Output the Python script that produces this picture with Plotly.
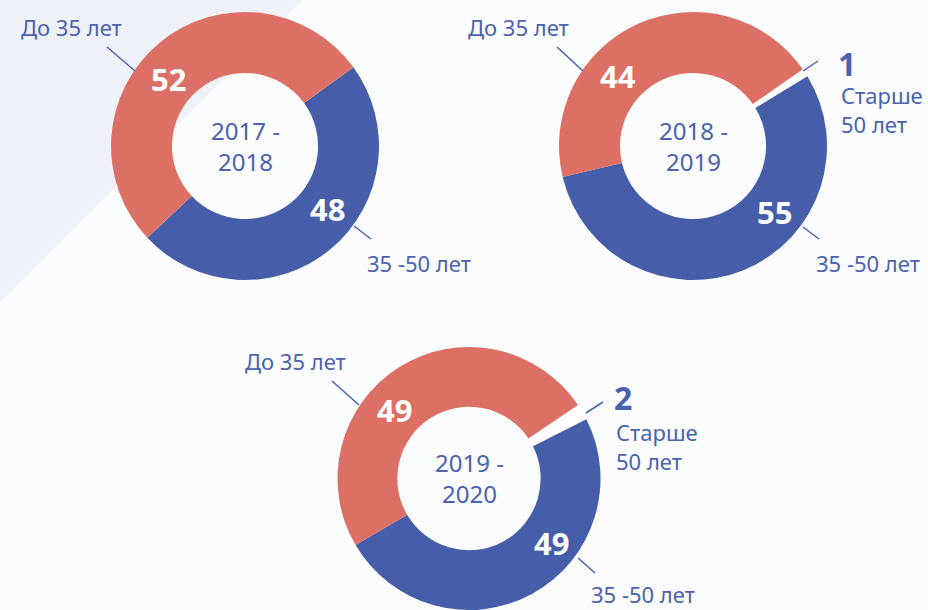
import plotly.graph_objects as go

W, H = 928, 610

# ---- data ----
periods = ["2017 -<br>2018", "2018 -<br>2019", "2019 -<br>2020"]
age_groups = ["Старше 50 лет", "35 -50 лет", "До 35 лет"]
values_2017 = [0, 48, 52]
values_2018 = [1, 55, 44]
values_2019 = [2, 49, 49]
all_values = [values_2017, values_2018, values_2019]

RED = "#DD7064"
BLUE = "#465EA9"
TXT = "#4A62B0"
FONT = "Noto Sans"

def px(x):
    return x / W

def py(y):
    return 1 - y / H

# per-chart layout (pixel geometry)
domains = [
    dict(x=[px(111), px(379)], y=[py(280), py(12)]),
    dict(x=[px(559), px(827)], y=[py(280), py(12)]),
    dict(x=[px(335), px(603)], y=[0, py(347)]),
]
rotations = [54, 55, 56]
centers = [(245, 146), (693, 146), (469, 478)]

fig = go.Figure()
for vals, dom, rot in zip(all_values, domains, rotations):
    labs = [l for l, v in zip(age_groups, vals) if v > 0]
    vv = [v for v in vals if v > 0]
    cols = {"Старше 50 лет": "#FFFFFF", "35 -50 лет": BLUE, "До 35 лет": RED}
    fig.add_trace(go.Pie(
        labels=labs, values=vv, hole=0.545, sort=False, direction="clockwise",
        rotation=rot, domain=dom, textinfo="none", hoverinfo="skip",
        marker=dict(colors=[cols[l] for l in labs], line=dict(width=0)),
        showlegend=False,
    ))

ann = []
shapes = []

# background
shapes.append(dict(type="path", xref="paper", yref="paper",
                   path=f"M 0 1 L {px(303)} 1 L 0 {py(303)} Z",
                   fillcolor="#EEF1F8", line=dict(width=0), layer="below"))

def add_text(x, y, text, size, color=TXT, bold=False, xanchor="center"):
    ann.append(dict(x=px(x), y=py(y), xref="paper", yref="paper", text=text,
                    showarrow=False, xanchor=xanchor, yanchor="middle",
                    align=xanchor if xanchor != "center" else "center",
                    font=dict(family=FONT, size=size, color=color,
                              weight="bold" if bold else "normal")))

def add_line(x0, y0, x1, y1):
    shapes.append(dict(type="line", xref="paper", yref="paper",
                       x0=px(x0), y0=py(y0), x1=px(x1), y1=py(y1),
                       line=dict(color=TXT, width=1.5)))

# centre titles
for (cx, cy), t in zip(centers, periods):
    add_text(cx, cy, t, 24)

# chart 1
add_text(71, 27, age_groups[2], 22)
add_line(107, 47, 135, 71)
add_text(419, 263, age_groups[1], 22)
add_line(354, 226, 371, 239)
add_text(168, 79, str(values_2017[2]), 31, "#FFFFFF", True)
add_text(327, 209, str(values_2017[1]), 31, "#FFFFFF", True)

# chart 2
add_text(518, 27, age_groups[2], 22)
add_line(557, 47, 583, 71)
add_text(868, 263, age_groups[1], 22)
add_line(803, 227, 819, 239)
add_text(618, 76, str(values_2018[2]), 31, "#FFFFFF", True)
add_text(774, 212, str(values_2018[1]), 31, "#FFFFFF", True)
add_text(836, 63, str(values_2018[0]), 32, TXT, True, "left")
add_text(839, 109, "Старше<br>50 лет", 22, TXT, False, "left")
add_line(803, 71, 818, 61)

# chart 3
add_text(295, 361, age_groups[2], 22)
add_line(332, 381, 359, 405)
add_text(643, 594, age_groups[1], 22)
add_line(578, 558, 595, 573)
add_text(394, 410, str(values_2019[2]), 31, "#FFFFFF", True)
add_text(551, 543, str(values_2019[1]), 31, "#FFFFFF", True)
add_text(612, 397, str(values_2019[0]), 32, TXT, True, "left")
add_text(614, 446, "Старше<br>50 лет", 22, TXT, False, "left")
add_line(586, 413, 603, 402)

fig.update_layout(
    width=W, height=H, margin=dict(l=0, r=0, t=0, b=0),
    paper_bgcolor="#FBFCFE", plot_bgcolor="#FBFCFE",
    annotations=ann, shapes=shapes,
    font=dict(family=FONT),
)
fig.write_html("out.html")
